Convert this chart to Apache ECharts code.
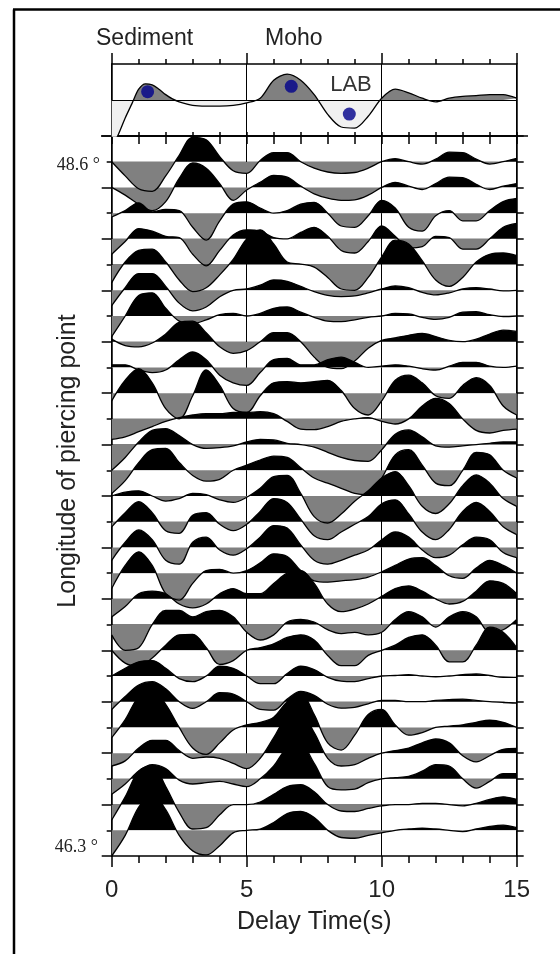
<!DOCTYPE html>
<html><head><meta charset="utf-8">
<script src="https://cdn.jsdelivr.net/npm/echarts@6/dist/echarts.min.js"></script>
<style>html,body{margin:0;padding:0;background:#fff}#c{width:560px;height:954px}</style>
</head><body><div id="c"></div>
<script>
// ---- data ----
const times = [0,0.5,1,1.5,2,2.5,3,3.5,4,4.5,5,5.5,6,6.5,7,7.5,8,8.5,9,9.5,10,10.5,11,11.5,12,12.5,13,13.5,14,14.5,15];
const stackTimes = [0,0.25,0.5,0.75,1,1.25,1.5,1.75,2,2.25,2.5,3,3.5,4,4.5,5,5.5,6,6.5,7,7.5,8,8.5,9,9.5,10,10.5,11,11.5,12,12.5,13,13.5,14,14.5,15];
const stackAmp = [-1.3,-0.95,-0.5,-0.1,0.3,0.45,0.42,0.3,0.15,0.03,-0.05,-0.15,-0.17,-0.17,-0.15,-0.08,0.05,0.55,0.72,0.55,0.15,-0.4,-0.75,-0.78,-0.45,0.05,0.3,0.2,0.05,-0.05,0.05,0.1,0.12,0.15,0.15,0.05];
const pickTimes = [1.33, 6.65, 8.8];
const pickAmps = [0.23, 0.38, -0.39];
const topLabel = '48.6 °';
const bottomLabel = '46.3 °';

const rf01 = [0,-0.55,-1.05,-1.15,-0.55,0.25,0.95,0.85,0.2,-0.35,-0.45,0.05,0.35,0.35,0,-0.25,-0.4,-0.45,-0.42,-0.25,0,0.12,0,-0.09,0.1,0.37,0.35,0.1,-0.09,0,0.13];
const rf02 = [0,-0.3,-0.65,-0.9,-0.55,0.35,0.95,0.75,0.15,-0.5,-0.1,0.2,0.47,0.4,0.05,-0.25,-0.42,-0.5,-0.48,-0.3,0,0.2,0.05,-0.08,0.15,0.4,0.38,0.12,-0.08,0.05,0.15];
const rf03 = [-0.15,0.1,0.4,0.05,0.15,0.1,-0.55,-1.05,-0.3,0.35,0.44,0.2,0,0.1,0.35,0.42,0,-0.5,-0.55,-0.1,0.5,0.2,-0.55,-0.7,-0.1,0.1,-0.3,-0.3,0.1,0.45,0.57];
const rf04 = [-0.6,-0.1,0.4,0.3,0.1,0.05,-0.6,-1.05,-0.45,0.15,0.35,0.3,0.05,0,0.25,0.45,0.1,-0.45,-0.55,-0.1,0.5,0.1,-0.35,-0.3,0.1,0.05,-0.4,-0.4,0,0.45,0.6];
const rf05 = [-0.7,0.1,0.55,0.6,0.1,-0.6,-1.05,-0.9,-0.4,0.2,1.0,1.35,0.8,0.1,0.02,-0.1,-0.5,-0.95,-1.0,-0.5,0.3,0.95,0.8,0.15,-0.6,-0.85,-0.5,0.1,0.4,0.45,0.35];
const rf06 = [-0.6,0.1,0.65,0.65,0.15,-0.5,-0.8,-0.65,-0.25,0,0.05,0.2,0.4,0.35,0.15,-0.05,-0.2,-0.25,-0.22,-0.1,0.05,0.17,0.1,-0.08,-0.18,-0.1,0.05,0.1,0.05,-0.02,0];
const rf07 = [-0.8,0,0.8,0.9,0.3,-0.2,-0.3,-0.15,0.05,0.1,0,0.1,0.3,0.35,0.15,-0.05,-0.2,-0.22,-0.15,-0.05,0,0.1,0.08,-0.05,-0.13,-0.05,0.15,0.17,0.05,-0.02,0];
const rf08 = [0.1,-0.15,-0.2,-0.05,0.3,0.75,0.8,0.35,-0.2,-0.45,-0.35,0,0.35,0.35,0,-0.6,-1.0,-1.05,-0.75,-0.25,0.05,0.15,0.25,0.32,0.2,0.05,0,0.1,0.3,0.45,0.4];
const rf09 = [0.1,0.1,-0.1,-0.2,-0.1,0.3,0.6,0.3,-0.3,-0.6,-0.7,-0.2,0.3,0.35,0.1,0.1,0.3,0.4,0.2,0,0.05,0.1,0.05,-0.05,-0.1,0.05,0.2,0.2,0.05,0,0.05];
const rf10 = [-0.3,0.5,0.95,0.4,-0.6,-1.0,-0.1,0.9,0.3,-0.6,-0.75,-0.1,0.4,0.45,0.4,0.45,0.5,0.1,-0.6,-0.85,-0.3,0.5,0.7,0.4,-0.1,-0.2,0.3,0.6,0.3,-0.5,-0.85];
const rf11 = [-0.8,-0.7,-0.5,-0.3,-0.1,0.05,0.15,0.2,0.2,0.25,0.25,0.28,0.2,-0.1,-0.4,-0.42,-0.3,-0.1,0,0.05,-0.1,-0.2,0,0.5,0.8,0.6,0,-0.45,-0.55,-0.45,-0.4];
const rf12 = [-1.0,-0.5,0.1,0.55,0.62,0.35,0,-0.15,-0.12,-0.05,0.1,0.2,0.18,0.05,0,-0.1,-0.3,-0.5,-0.62,-0.65,-0.2,0.4,0.57,0.3,-0.05,-0.1,-0.05,0,0.05,0.1,0.1];
const rf13 = [-0.9,-0.4,0.3,0.8,0.85,0.3,-0.2,-0.42,-0.35,0,0.2,0.4,0.55,0.5,0.1,-0.3,-0.5,-0.7,-0.9,-0.95,-0.3,0.6,0.8,0.2,-0.5,-0.6,0,0.7,0.6,0,-0.3];
const rf14 = [0,0.15,0.2,0,-0.2,-0.1,0.1,0.05,-0.15,-0.25,-0.05,0.3,0.75,0.8,0.1,-0.8,-1.05,-0.7,-0.2,0.2,0.7,0.95,0.4,-0.4,-0.68,-0.3,0.4,0.82,0.5,-0.1,-0.4];
const rf15 = [-0.2,0.35,0.78,0.35,-0.35,-0.45,0.25,0.35,-0.1,-0.35,-0.1,0.4,0.9,0.75,0.1,-0.55,-0.7,-0.4,-0.1,0.2,0.7,0.85,0.3,-0.4,-0.7,-0.3,0.4,0.75,0.4,-0.2,-0.5];
const rf16 = [-0.5,0.2,0.68,0.3,-0.5,-0.65,0.2,0.4,-0.1,-0.3,-0.05,0.4,0.85,0.75,0.1,-0.5,-0.65,-0.5,-0.3,-0.1,0.3,0.6,0.4,-0.1,-0.4,-0.3,0.1,0.4,0.3,-0.2,-0.4];
const rf17 = [-0.6,0.3,0.83,0.3,-0.8,-1.05,-0.4,0.1,0.15,0,0.1,0.4,0.75,0.65,0.1,-0.3,-0.35,-0.3,-0.25,-0.15,0.05,0.3,0.55,0.6,0.3,-0.1,-0.2,0.2,0.5,0.3,0];
const rf18 = [-0.7,-0.3,0.2,0.3,0.2,-0.2,-0.35,-0.2,0.2,0.4,0.2,0.2,0.6,1.0,1.1,0.6,-0.2,-0.5,-0.4,-0.2,0.1,0.4,0.5,0.3,0,-0.2,-0.1,0.3,0.7,0.6,0.2];
const rf19 = [-0.4,-1.0,-0.9,0,0.55,0.55,0.3,0.5,0.55,0.3,-0.3,-0.6,-0.4,0.1,0.2,0.1,-0.2,-0.35,-0.3,-0.4,-0.3,0.2,0.5,0.3,-0.1,0.3,0.5,0.3,-0.3,-0.2,0.2];
const rf20 = [0,-0.5,-0.62,-0.3,0.2,0.6,0.62,0.1,-0.55,-0.4,0,0.1,0.25,0.5,0.6,0.4,-0.2,-0.6,-0.6,-0.2,0,0.2,0.5,0.6,0.2,-0.45,-0.45,0.2,0.9,0.7,0.1];
const rf21 = [0,0.3,0.55,0.6,0.3,-0.1,-0.22,0,0.38,0.3,0,-0.3,-0.3,0.1,0.38,0.25,-0.05,-0.2,-0.22,-0.1,0,0.02,0.05,0,-0.03,0,0.05,0.08,0.02,-0.05,-0.05];
const rf22 = [-0.3,0.2,0.65,0.78,0.5,0,-0.26,0,0.35,0.3,0,-0.3,-0.33,0.1,0.4,0.25,-0.1,-0.25,-0.22,-0.08,0.05,0.05,0,0,0.05,0.08,0.1,0.05,0,-0.03,-0.05];
const rf23 = [-0.4,0.3,1.2,1.5,0.9,0,-0.8,-1.05,-0.6,-0.1,0.1,0.2,0.4,1.0,1.3,0.5,-0.6,-0.88,-0.3,0.5,0.7,0.1,-0.3,-0.2,0,0.05,0.1,0.2,0.28,0.2,0];
const rf24 = [-0.5,-0.3,0.2,0.5,0.5,0.1,-0.2,-0.15,-0.2,-0.4,-0.6,-0.2,0.6,1.4,1.5,0.8,-0.2,-0.5,-0.45,-0.2,0,0.1,0.2,0.4,0.55,0.4,-0.1,-0.34,-0.1,0.15,0.18];
const rf25 = [-0.6,-0.2,0.3,0.55,0.4,-0.05,-0.2,-0.15,-0.1,-0.2,-0.3,0,0.5,1.2,1.3,0.6,-0.3,-0.43,-0.4,-0.15,0,0.05,0.1,0.3,0.55,0.5,0,-0.36,-0.1,0.2,0.2];
const rf26 = [-0.6,0.3,1.3,1.5,0.7,-0.3,-0.95,-0.9,-0.4,0,0,0.1,0.4,0.7,0.77,0.5,0,-0.25,-0.27,-0.15,-0.05,0,0,0.05,0.05,0,-0.05,0.05,0.2,0.3,0.2];
const rf27 = [-1.0,-0.2,0.9,1.4,0.8,-0.2,-0.8,-0.96,-0.6,-0.1,0,0.05,0.3,0.65,0.73,0.5,0,-0.28,-0.31,-0.2,-0.1,0,0.05,0.08,0.05,0,-0.05,0.05,0.15,0.2,0.1];
const traces = [rf01,rf02,rf03,rf04,rf05,rf06,rf07,rf08,rf09,rf10,rf11,rf12,rf13,rf14,rf15,rf16,rf17,rf18,rf19,rf20,rf21,rf22,rf23,rf24,rf25,rf26,rf27];

// ---- layout ----
const L = 111.7, W = 405, MT = 136, MH = 720, PT = 64, PH = 72;
const N = traces.length;          // 27 traces
const SLOTS = N + 1;              // 28 spacings in the main frame
const black = '#000';
const sans = '"Liberation Sans", Arial, Helvetica, sans-serif';
const serif = '"Liberation Serif", "Times New Roman", serif';

const grids = [
  {left: L, top: PT, width: W, height: PH},
  {left: L, top: MT, width: W, height: MH}
];
const xAxes = [
  {gridIndex:0, type:'value', min:0, max:15, interval:5, position:'top',
   axisLine:{show:true, onZero:false, lineStyle:{color:black, width:1.5}},
   axisTick:{show:true, length:11, lineStyle:{color:black, width:1.5}},
   minorTick:{show:true, splitNumber:5, length:5, lineStyle:{color:black, width:1.5}},
   axisLabel:{show:false}, splitLine:{show:true, lineStyle:{color:black, width:1}}},
  {gridIndex:0, type:'value', min:0, max:15, interval:1, position:'bottom',
   axisLine:{show:true, onZero:false, lineStyle:{color:black, width:1.5}},
   axisTick:{show:true, inside:true, length:4, lineStyle:{color:black, width:1.5}},
   axisLabel:{show:false}, splitLine:{show:false}},
  {gridIndex:1, type:'value', min:0, max:15, interval:5, position:'bottom',
   axisLine:{show:true, onZero:false, lineStyle:{color:black, width:1.5}},
   axisTick:{show:true, length:11, lineStyle:{color:black, width:1.5}},
   minorTick:{show:true, splitNumber:5, length:7, lineStyle:{color:black, width:1.5}},
   axisLabel:{show:true, fontSize:24, color:'#222', fontFamily:sans, margin:22},
   splitLine:{show:true, lineStyle:{color:black, width:1}},
   name:'Delay Time(s)', nameLocation:'middle', nameGap:54,
   nameTextStyle:{fontSize:25, color:'#222', fontFamily:sans}},
  {gridIndex:1, type:'value', min:0, max:15, interval:1, position:'top',
   axisLine:{show:true, onZero:false, lineStyle:{color:black, width:1.5}},
   axisTick:{show:true, inside:true, length:8, lineStyle:{color:black, width:1.5}},
   axisLabel:{show:false}, splitLine:{show:false}}
];
const yAxes = [
  {gridIndex:0, type:'value', min:-1, max:1, position:'left',
   axisLine:{show:true, onZero:false, lineStyle:{color:black, width:1.5}}, axisTick:{show:false}, axisLabel:{show:false}, splitLine:{show:false}},
  {gridIndex:0, type:'value', min:-1, max:1, position:'right',
   axisLine:{show:true, onZero:false, lineStyle:{color:black, width:1.5}}, axisTick:{show:false}, axisLabel:{show:false}, splitLine:{show:false}},
  {gridIndex:1, type:'value', min:0, max:SLOTS, interval:1, position:'left',
   axisLine:{show:true, onZero:false, lineStyle:{color:black, width:1.5}},
   axisTick:{show:true, length:5, lineStyle:{color:black, width:1.5}}, axisLabel:{show:false}, splitLine:{show:false}},
  {gridIndex:1, type:'value', min:0, max:SLOTS, interval:2, position:'left',
   axisLine:{show:false},
   axisTick:{show:true, length:10, lineStyle:{color:black, width:1.5}}, axisLabel:{show:false}, splitLine:{show:false}},
  {gridIndex:1, type:'value', min:0, max:SLOTS, interval:1, position:'right',
   axisLine:{show:true, onZero:false, lineStyle:{color:black, width:1.5}},
   axisTick:{show:true, length:7, lineStyle:{color:black, width:1.5}}, axisLabel:{show:false}, splitLine:{show:false}}
];

const series = [
  {type:'line', xAxisIndex:1, yAxisIndex:0, smooth:0.3, symbol:'none', silent:true,
   data: stackTimes.map((t,i)=>[t, stackAmp[i]]),
   lineStyle:{color:black, width:1.3}, areaStyle:{opacity:1}, z:3,
   markLine:{silent:true, symbol:'none', label:{show:false}, lineStyle:{color:black, width:1, type:'solid'}, data:[{yAxis:0}]}},
  {type:'scatter', xAxisIndex:1, yAxisIndex:0, symbolSize:13, silent:true,
   itemStyle:{color:'#00008b'}, z:5,
   data: pickTimes.map((t,i)=>[t, pickAmps[i]])}
];
const traceSeriesIdx = [];
traces.forEach((amp, k) => {
  const gi = grids.length;
  grids.push({left: L, top: MT, width: W, height: MH});
  const base = N - k;             // baseline position counted in spacings from the bottom
  xAxes.push({gridIndex:gi, type:'value', min:0, max:15, show:false});
  yAxes.push({gridIndex:gi, type:'value', min:-base, max:SLOTS - base, show:false});
  traceSeriesIdx.push(series.length);
  series.push({type:'line', xAxisIndex:xAxes.length-1, yAxisIndex:yAxes.length-1,
    smooth:0.35, symbol:'none', silent:true, clip:true,
    data: times.map((t,i)=>[t, amp[i]]),
    lineStyle:{color:black, width:1.3}, areaStyle:{opacity:1}, z:2});
});

const graphic = [
  {type:'line', shape:{x1:14, y1:9.5, x2:14, y2:954}, style:{stroke:black, lineWidth:2.5}, silent:true},
  {type:'line', shape:{x1:13, y1:9.5, x2:560, y2:9.5}, style:{stroke:black, lineWidth:2.5}, silent:true},
  {type:'line', shape:{x1:101, y1:MT, x2:528, y2:MT}, style:{stroke:black, lineWidth:1.5}, silent:true},
  {type:'text', x:144.6, y:39, style:{text:'Sediment', font:'23px '+sans, fill:'#222', align:'center', verticalAlign:'middle'}},
  {type:'text', x:293.8, y:39, style:{text:'Moho', font:'23px '+sans, fill:'#222', align:'center', verticalAlign:'middle'}},
  {type:'text', x:351, y:85, style:{text:'LAB', font:'22px '+sans, fill:'#333', align:'center', verticalAlign:'middle'}},
  {type:'text', x:100, y:165, style:{text:topLabel, font:'18px '+serif, fill:'#222', align:'right', verticalAlign:'middle'}},
  {type:'text', x:98, y:847, style:{text:bottomLabel, font:'18px '+serif, fill:'#222', align:'right', verticalAlign:'middle'}},
  {type:'text', x:68, y:461, rotation:Math.PI/2, style:{text:'Longitude of piercing point', font:'25px '+sans, fill:'#222', align:'center', verticalAlign:'middle'}}
];

const chart = echarts.init(document.getElementById('c'), null, {renderer:'canvas'});
chart.setOption({
  animation:false,
  backgroundColor:'#fff',
  grid: grids, xAxis: xAxes, yAxis: yAxes, series: series, graphic: graphic,
  visualMap:[
    {type:'piecewise', show:false, seriesIndex:0, dimension:1,
     pieces:[{min:-50, max:0, color:'#f0f0f0'}, {min:0, max:50, color:'#808080'}]},
    {type:'piecewise', show:false, seriesIndex:traceSeriesIdx, dimension:1,
     pieces:[{min:-50, max:0, color:'#808080'}, {min:0, max:50, color:'#000000'}]}
  ]
});
</script></body></html>
